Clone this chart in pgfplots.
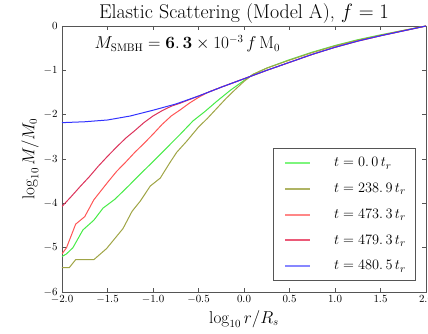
\documentclass[border=0pt]{standalone}
\usepackage{pgfplots}
\pgfplotsset{compat=1.18}

\definecolor{lineGreen}{RGB}{70,235,70}
\definecolor{lineOlive}{RGB}{160,165,70}
\definecolor{lineSalmon}{RGB}{255,85,85}
\definecolor{lineCrimson}{RGB}{220,50,90}
\definecolor{lineBlue}{RGB}{50,50,255}
\definecolor{legGreen}{RGB}{125,245,125}
\definecolor{legOlive}{RGB}{175,180,100}
\definecolor{legSalmon}{RGB}{255,135,135}
\definecolor{legCrimson}{RGB}{235,90,120}
\definecolor{legBlue}{RGB}{135,135,255}
\definecolor{spine}{RGB}{85,85,85}

\pgfplotsset{
  leg/.style={legend image code/.code={%
    \path[draw=none] (-4bp,0bp) -- (32bp,0bp);
    \draw[draw=#1, line width=2bp] (0bp,0bp) -- (25bp,0bp);}},
}

\begin{document}
\begin{tikzpicture}
\useasboundingbox (0bp,0bp) rectangle (428bp,334bp);
\begin{axis}[
  at={(62bp,42bp)}, anchor=south west,
  scale only axis, width=364bp, height=266bp,
  xmin=-2, xmax=2, ymin=-6, ymax=0,
  xtick={-2,-1.5,...,2}, ytick={-6,-5,...,0},
  xticklabel style={/pgf/number format/.cd, fixed, fixed zerofill, precision=1},
  tick label style={font=\fontsize{11}{13}\selectfont},
  yticklabel style={xshift=-1bp},
  tick align=inside, major tick length=4bp,
  xtick pos=both, ytick pos=both,
  axis line style={spine, line width=0.9bp},
  tick style={spine, line width=0.7bp},
  title={Elastic Scattering (Model A), $f=1$},
  title style={font=\fontsize{20}{24}\selectfont, yshift=-7bp},
  xlabel={$\log_{10} r/R_s$},
  ylabel={$\log_{10} M/M_0$},
  label style={font=\fontsize{16}{19}\selectfont},
  ylabel style={yshift=-2bp},
  legend style={at={(0.973,0.042)}, anchor=south east, draw=spine, line width=0.9bp,
    font=\fontsize{15}{18}\selectfont, inner xsep=8bp, inner ysep=7bp,
    row sep=11bp, cells={anchor=west}},
  legend cell align=left,
  every axis plot/.append style={line width=1bp},
]
% t = 0
\addplot[draw=lineGreen, forget plot] coordinates {
(-2.00,-5.20) (-1.95,-5.14) (-1.88,-5.00) (-1.77,-4.60) (-1.65,-4.38)
(-1.55,-4.11) (-1.42,-3.91) (-1.27,-3.61) (-1.12,-3.30) (-1.00,-3.06)
(-0.85,-2.75) (-0.70,-2.44) (-0.56,-2.14) (-0.43,-1.93) (-0.30,-1.70)
(-0.15,-1.45) (0.00,-1.23) (0.10,-1.09) (0.25,-0.95) (0.50,-0.76)
(0.75,-0.59) (1.00,-0.44) (1.25,-0.31) (1.50,-0.20) (1.75,-0.10) (2.00,0.00)};
% t = 238.9
\addplot[draw=lineOlive, forget plot] coordinates {
(-2.00,-5.45) (-1.92,-5.45) (-1.85,-5.27) (-1.65,-5.27) (-1.51,-5.02)
(-1.33,-4.57) (-1.23,-4.18) (-1.14,-3.95) (-1.03,-3.61) (-0.92,-3.43)
(-0.82,-3.10) (-0.74,-2.85) (-0.63,-2.60) (-0.50,-2.28) (-0.40,-2.08)
(-0.30,-1.86) (-0.20,-1.64) (-0.10,-1.44) (0.00,-1.25) (0.10,-1.09)
(0.25,-0.95) (0.50,-0.77) (0.75,-0.60) (1.00,-0.45) (1.25,-0.32)
(1.50,-0.21) (1.75,-0.10) (2.00,0.00)};
% t = 473.3
\addplot[draw=lineSalmon, forget plot] coordinates {
(-2.00,-5.14) (-1.95,-5.00) (-1.85,-4.47) (-1.75,-4.30) (-1.65,-3.92)
(-1.50,-3.53) (-1.40,-3.28) (-1.30,-3.07) (-1.20,-2.85) (-1.10,-2.65)
(-1.00,-2.44) (-0.90,-2.22) (-0.80,-2.03) (-0.70,-1.89) (-0.60,-1.74)
(-0.50,-1.61) (-0.40,-1.50) (-0.25,-1.38) (0.00,-1.19) (0.25,-1.00)
(0.50,-0.82) (0.75,-0.64) (1.00,-0.48) (1.25,-0.34) (1.50,-0.22)
(1.75,-0.11) (2.00,0.00)};
% t = 479.3
\addplot[draw=lineCrimson, forget plot] coordinates {
(-2.00,-4.07) (-1.90,-3.85) (-1.80,-3.62) (-1.70,-3.40) (-1.60,-3.16)
(-1.50,-2.94) (-1.40,-2.73) (-1.30,-2.53) (-1.20,-2.36) (-1.10,-2.18)
(-1.00,-2.03) (-0.90,-1.91) (-0.80,-1.81) (-0.70,-1.74) (-0.60,-1.66)
(-0.50,-1.58) (-0.25,-1.38) (0.00,-1.19) (0.25,-1.00) (0.50,-0.82)
(0.75,-0.64) (1.00,-0.48) (1.25,-0.34) (1.50,-0.22) (1.75,-0.11) (2.00,0.00)};
% t = 480.5
\addplot[draw=lineBlue, forget plot] coordinates {
(-2.00,-2.18) (-1.75,-2.16) (-1.50,-2.12) (-1.25,-2.03) (-1.00,-1.90)
(-0.75,-1.76) (-0.50,-1.58) (-0.25,-1.38) (0.00,-1.19) (0.25,-1.00)
(0.50,-0.82) (0.75,-0.64) (1.00,-0.48) (1.25,-0.34) (1.50,-0.22)
(1.75,-0.11) (2.00,0.00)};

% legend entries with lighter line samples
\addlegendimage{leg=legGreen}
\addlegendentry{\hspace{15bp}$t = 0.\,0\,t_r$}
\addlegendimage{leg=legOlive}
\addlegendentry{\hspace{15bp}$t = 238.\,9\,t_r$}
\addlegendimage{leg=legSalmon}
\addlegendentry{\hspace{15bp}$t = 473.\,3\,t_r$}
\addlegendimage{leg=legCrimson}
\addlegendentry{\hspace{15bp}$t = 479.\,3\,t_r$}
\addlegendimage{leg=legBlue}
\addlegendentry{\hspace{15bp}$t = 480.\,5\,t_r$}

\node[anchor=west, font=\fontsize{16}{19}\selectfont] at (axis cs:-1.68,-0.40)
  {$M_{\mathrm{SMBH}} = \mathbf{6.\,3} \times 10^{-3}\, f\,\mathrm{M}_0$};
\end{axis}
\end{tikzpicture}
\end{document}
